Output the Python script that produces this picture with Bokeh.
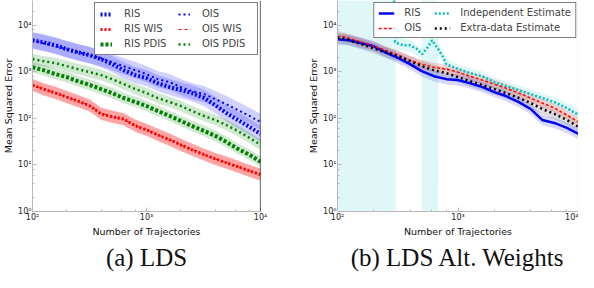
from bokeh.plotting import figure
from bokeh.layouts import row
from bokeh.models import Legend, LegendItem, LogTicker, Title, Span
from bokeh.embed import file_html
from bokeh.resources import INLINE

# ---------------- data ----------------
N = [100, 125, 160, 200, 250, 320, 400, 500, 630, 800, 1000,
     1250, 1600, 2000, 2500, 3200, 4000, 5000, 6300, 8000, 10000]

# panel (a) LDS
a_ris = [4780, 4330, 3730, 3070, 2640, 2280, 1880, 1470, 1090, 852, 735,
         574, 472, 407, 351, 275, 194, 131, 92.9, 65.8, 46.6]
a_ois = [4780, 4120, 3560, 3070, 2640, 2280, 1970, 1620, 1330, 1090, 896,
         700, 604, 472, 387, 334, 261, 204, 152, 113, 84.2]
a_ris_wis = [521, 428, 351, 288, 237, 185, 125, 108, 97.5, 69.1, 56.8,
             44.4, 34.7, 27.1, 21.2, 16.6, 13.6, 11.2, 9.18, 7.53, 6.18]
a_ois_wis = [530, 420, 355, 290, 235, 190, 128, 110, 95, 70, 57,
             45, 35, 27, 21.5, 16.8, 13.4, 11.3, 9.3, 7.4, 6.3]
a_ris_pdis = [1260, 1090, 896, 772, 634, 521, 428, 351, 275, 225, 185,
              145, 113, 88.4, 69.1, 54.0, 42.3, 31.4, 22.3, 16.6, 11.7]
a_ois_pdis = [1880, 1700, 1540, 1330, 1150, 988, 852, 700, 547, 428, 351,
              275, 225, 185, 145, 113, 92.9, 72.6, 54.0, 38.3, 27.1]

# panel (b) LDS Alt. Weights
b_ris = [5020, 4780, 4120, 3560, 2640, 1970, 1470, 1040, 811, 700, 667,
         574, 472, 369, 303, 225, 160, 92.9, 80.1, 62.6, 46.6]
b_ois = [6110, 5270, 4330, 3560, 2920, 2280, 1780, 1470, 1260, 1150, 988,
         811, 667, 547, 449, 351, 275, 215, 168, 119, 84.2]
b_extra = [5540, 4780, 3920, 3220, 2640, 2170, 1700, 1330, 1090, 940, 772,
           634, 521, 428, 351, 275, 215, 160, 125, 92.9, 65.8]

N_indep = [285, 301, 350, 400, 460, 504, 560, 609, 680, 738, 800, 1000,
           1260, 1580, 2000, 2510, 3160, 3980, 5010, 6310, 7940, 10000]
b_indep = [1e6, 4330, 3730, 3730, 3070, 2400, 3400, 4780, 3200, 2280, 1470, 1150,
           940, 811, 604, 496, 407, 334, 275, 225, 168, 119]

# band of the independent estimate (undefined spread -> whole axis)
N_indep_band = [100, 301, 305, 400, 500, 504, 680, 690, 738, 800, 1000,
                1260, 1580, 2000, 2510, 3160, 3980, 5010, 6310, 7940, 10000]
indep_lo = [1e-3, 1e-3, 3000, 2700, 1900, 1e-3, 1e-3, 2300, 1750, 1150, 900,
            740, 640, 480, 390, 320, 265, 215, 175, 130, 92]
indep_hi = [1e8, 1e8, 5600, 5000, 3100, 1e8, 1e8, 4300, 2950, 1900, 1450,
            1200, 1030, 760, 630, 520, 425, 350, 290, 215, 155]

# spread factor of each shaded band
spread_a = {"RIS": 1.5, "OIS": 1.5, "RIS WIS": 1.35, "OIS WIS": 1.35,
            "RIS PDIS": 1.3, "OIS PDIS": 1.3}
spread_b = {"RIS": 1.3, "OIS": 1.25, "Extra-data Estimate": 1.3}

y_tick_labels = ["10\u2070", "10\u00b9", "10\u00b2", "10\u00b3", "10\u2074"]
x_tick_labels = ["10\u00b2", "10\u00b3", "10\u2074"]
y_ticks = [1, 10, 100, 1000, 10000]
x_ticks = [100, 1000, 10000]
y_limits = (1, 34300)

captions = ["(a) LDS", "(b) LDS Alt. Weights"]

BLUE = "#0000ff"
RED = "#ff0000"
GREEN = "#008000"
CYAN = "#00bfbf"
AXIS_GRAY = "#b8b8b8"
FONT = "DejaVu Sans"


def make_fig(width, border_left, border_right, right_color, caption):
    p = figure(width=width, height=272, x_axis_type="log", y_axis_type="log",
               x_range=(x_ticks[0], x_ticks[-1]), y_range=y_limits,
               output_backend="svg", toolbar_location=None,
               min_border_left=border_left, min_border_right=border_right,
               min_border_top=0, min_border_bottom=60)
    p.grid.visible = False
    p.outline_line_color = None
    p.background_fill_color = "white"
    for ax in (p.xaxis[0], p.yaxis[0]):
        ax.axis_line_color = AXIS_GRAY
        ax.major_tick_line_color = AXIS_GRAY
        ax.minor_tick_line_color = AXIS_GRAY
        ax.major_tick_in = 4
        ax.major_tick_out = 0
        ax.minor_tick_in = 2
        ax.minor_tick_out = 0
        ax.major_label_text_font = FONT
        ax.major_label_text_font_size = "8px"
        ax.major_label_text_color = "#222222"
        ax.axis_label_text_font = FONT
        ax.axis_label_text_font_size = "9.5px"
        ax.axis_label_text_font_style = "normal"
        ax.axis_label_text_color = "#111111"
        ax.major_label_standoff = 1
        ax.axis_label_standoff = 1
    p.xaxis[0].ticker = LogTicker(desired_num_ticks=3)
    p.yaxis[0].ticker = LogTicker(desired_num_ticks=6)
    p.xaxis[0].major_label_overrides = {float(t): l for t, l in zip(x_ticks, x_tick_labels)}
    p.yaxis[0].major_label_overrides = {float(t): l for t, l in zip(y_ticks, y_tick_labels)}
    p.xaxis[0].axis_label = "Number of Trajectories"
    p.yaxis[0].axis_label = "Mean Squared Error"
    # right-hand spine at the end of the x range
    p.add_layout(Span(location=x_ticks[-1], dimension="height",
                      line_color=right_color, line_width=1.2))
    p.add_layout(Title(text=caption, align="center", text_font="Liberation Serif",
                       text_font_size="25px", text_font_style="normal",
                       text_color="#111111", standoff=4), "below")
    return p


def band(p, x, vals, f, color, alpha):
    p.varea(x=x, y1=[v / f for v in vals], y2=[v * f for v in vals],
            fill_color=color, fill_alpha=alpha)


def style_legend(items, glyph_w, label_w, standoff, padding):
    lg = Legend(items=items, location="top_right", orientation="vertical", ncols=2,
                border_line_color="black", border_line_width=1,
                background_fill_color="white", background_fill_alpha=1.0,
                label_text_font=FONT, label_text_font_size="10px",
                glyph_width=glyph_w, glyph_height=10, label_height=10,
                label_width=label_w,
                label_standoff=standoff, spacing=4, padding=padding, margin=2)
    return lg


# ---------------- panel (a) ----------------
pa = make_fig(289, 0, 29, "black", captions[0])
band(pa, N, a_ois, spread_a["OIS"], BLUE, 0.18)
band(pa, N, a_ris, spread_a["RIS"], BLUE, 0.18)
band(pa, N, a_ois_pdis, spread_a["OIS PDIS"], GREEN, 0.18)
band(pa, N, a_ris_pdis, spread_a["RIS PDIS"], GREEN, 0.18)
band(pa, N, a_ois_wis, spread_a["OIS WIS"], RED, 0.2)
band(pa, N, a_ris_wis, spread_a["RIS WIS"], RED, 0.2)

r_ris = pa.line(N, a_ris, line_color=BLUE, line_width=4, line_dash="2 2")
r_ois = pa.line(N, a_ois, line_color=BLUE, line_width=2, line_dash="2 3")
r_ris_pdis = pa.line(N, a_ris_pdis, line_color=GREEN, line_width=4, line_dash="3 2")
r_ois_pdis = pa.line(N, a_ois_pdis, line_color=GREEN, line_width=2.5, line_dash="2 3")
r_ris_wis = pa.line(N, a_ris_wis, line_color=RED, line_width=3, line_dash="2 2")
r_ois_wis = pa.line(N, a_ois_wis, line_color=RED, line_width=1, line_dash="3 3")

leg_a = style_legend([
    LegendItem(label="RIS", renderers=[r_ris]),
    LegendItem(label="RIS WIS", renderers=[r_ris_wis]),
    LegendItem(label="RIS PDIS", renderers=[r_ris_pdis]),
    LegendItem(label="OIS", renderers=[r_ois]),
    LegendItem(label="OIS WIS", renderers=[r_ois_wis]),
    LegendItem(label="OIS PDIS", renderers=[r_ois_pdis]),
], 12, 50, 12, 5)
pa.add_layout(leg_a, "center")

# ---------------- panel (b) ----------------
pb = make_fig(289, 48, 0, AXIS_GRAY, captions[1])
pb.varea(x=N_indep_band, y1=indep_lo, y2=indep_hi, fill_color=CYAN, fill_alpha=0.12)
band(pb, N, b_extra, spread_b["Extra-data Estimate"], "black", 0.13)
band(pb, N, b_ois, spread_b["OIS"], RED, 0.15)
band(pb, N, b_ris, spread_b["RIS"], BLUE, 0.15)

rb_ris = pb.line(N, b_ris, line_color=BLUE, line_width=2.5)
rb_ois = pb.line(N, b_ois, line_color=RED, line_width=1.5, line_dash="3 2")
rb_indep = pb.line(N_indep, b_indep, line_color=CYAN, line_width=2.5, line_dash="2 2")
rb_extra = pb.line(N, b_extra, line_color="black", line_width=2.5, line_dash="2 3")

leg_b = style_legend([
    LegendItem(label="RIS", renderers=[rb_ris]),
    LegendItem(label="OIS", renderers=[rb_ois]),
    LegendItem(label="Independent Estimate", renderers=[rb_indep]),
    LegendItem(label="Extra-data Estimate", renderers=[rb_extra]),
], 16, 26, 10, 4)
pb.add_layout(leg_b, "center")

layout = row(pa, pb, spacing=0)
open("out.html", "w").write(file_html(layout, INLINE))
